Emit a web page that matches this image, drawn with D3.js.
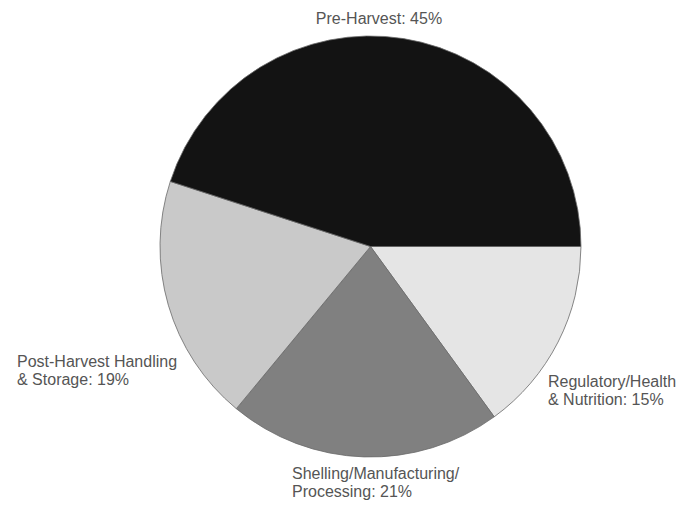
<!DOCTYPE html>
<html>
<head>
<meta charset="utf-8">
<script src="https://cdn.jsdelivr.net/npm/d3@7"></script>
<style>
  html, body { margin: 0; padding: 0; background: #fff; }
  svg { display: block; }
  text { font-family: "Liberation Sans", Arial, sans-serif; font-size: 16px; fill: #555; }
</style>
</head>
<body>
<svg id="chart" width="681" height="506"></svg>
<script>
// Slice data, listed clockwise from the 3 o'clock position
const categories = ["Regulatory/Health & Nutrition", "Shelling/Manufacturing/Processing", "Post-Harvest Handling & Storage", "Pre-Harvest"];
const shares = [15, 21, 19, 45];
const fills = ["#e5e5e5", "#808080", "#c9c9c9", "#131313"];
// Label lines for each slice
const labelLines = [
  ["Regulatory/Health", "& Nutrition: 15%"],
  ["Shelling/Manufacturing/", "Processing: 21%"],
  ["Post-Harvest Handling", "& Storage: 19%"],
  ["Pre-Harvest: 45%"]
];

const svg = d3.select("#chart");
const cx = 370.5, cy = 246.5, r = 210.5;

const pie = d3.pie()
  .sort(null)
  .value(d => d)
  .startAngle(Math.PI / 2)
  .endAngle(Math.PI / 2 + 2 * Math.PI);

const arc = d3.arc().innerRadius(0).outerRadius(r);

const g = svg.append("g").attr("transform", `translate(${cx},${cy})`);

g.selectAll("path")
  .data(pie(shares))
  .join("path")
  .attr("d", arc)
  .attr("fill", (d, i) => fills[i])
  .attr("stroke", "#6a6a6a")
  .attr("stroke-width", 0.8)
  .attr("stroke-linejoin", "round");

// Label anchor positions (x, first baseline, alignment)
const labelPos = [
  { x: 548, y: 387, anchor: "start" },
  { x: 292, y: 479, anchor: "start" },
  { x: 17, y: 367, anchor: "start" },
  { x: 379, y: 24, anchor: "middle" }
];
const lineGap = 18;

svg.selectAll("text.label")
  .data(categories)
  .join("text")
  .attr("class", "label")
  .attr("text-anchor", (d, i) => labelPos[i].anchor)
  .each(function(d, i) {
    const t = d3.select(this);
    labelLines[i].forEach((line, k) => {
      t.append("tspan")
        .attr("x", labelPos[i].x)
        .attr("y", labelPos[i].y + k * lineGap)
        .text(line);
    });
  });
</script>
</body>
</html>
